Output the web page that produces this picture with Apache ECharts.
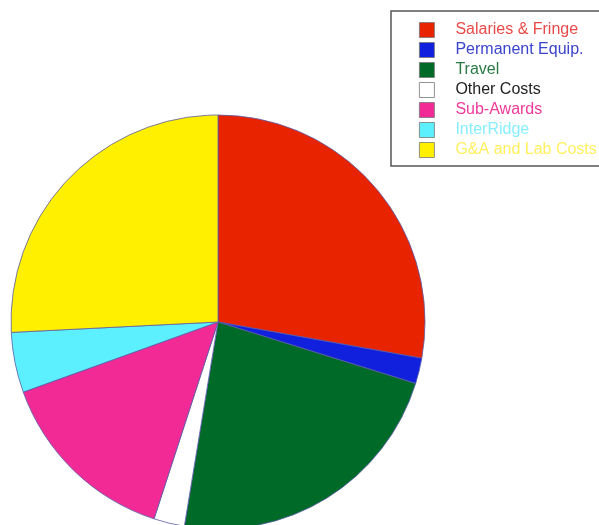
<!DOCTYPE html>
<html><head><meta charset="utf-8">
<script src="https://cdn.jsdelivr.net/npm/echarts@6/dist/echarts.min.js"></script>
<style>html,body{margin:0;padding:0;background:#fff}#c{width:599px;height:525px}</style>
</head><body><div id="c"></div>
<script>
const categories = ["Salaries & Fringe","Permanent Equip.","Travel","Other Costs","Sub-Awards","InterRidge","G&A and Lab Costs"];
const values = [27.8, 2.0, 22.8, 2.4, 14.5, 4.7, 25.8];
const colors = ["#e82400","#1020dc","#006a28","#ffffff","#f22a96","#5cf0ff","#fff000"];
const textColors = ["#e84a4a","#3a44cc","#2a7a44","#222222","#ee3a9a","#88eeff","#fff060"];

const chart = echarts.init(document.getElementById('c'), null, {renderer:'canvas'});
chart.setOption({
  animation:false,
  backgroundColor:'#ffffff',
  legend:{
    orient:'vertical', left:391, top:11,
    padding:[11,40,8,28],
    borderColor:'#555', borderWidth:1.5,
    itemWidth:15, itemHeight:15, itemGap:4,
    icon:'rect',
    selectedMode:false,
    textStyle:{fontFamily:'Liberation Sans, Arial, sans-serif', fontSize:16, lineHeight:15, padding:[0,0,0,16]},
    data: categories.map((n,i)=>({name:n, itemStyle:{color:colors[i], borderColor:'#777', borderWidth:0.8}, textStyle:{color:textColors[i]}}))
  },
  series:[{
    type:'pie', center:[218,322], radius:207, startAngle:90, clockwise:true,
    label:{show:false}, labelLine:{show:false},
    emphasis:{disabled:true},
    itemStyle:{borderColor:'#5a5aa8', borderWidth:0.8},
    data: categories.map((n,i)=>({name:n, value:values[i], itemStyle:{color:colors[i]}}))
  }]
});
</script></body></html>
